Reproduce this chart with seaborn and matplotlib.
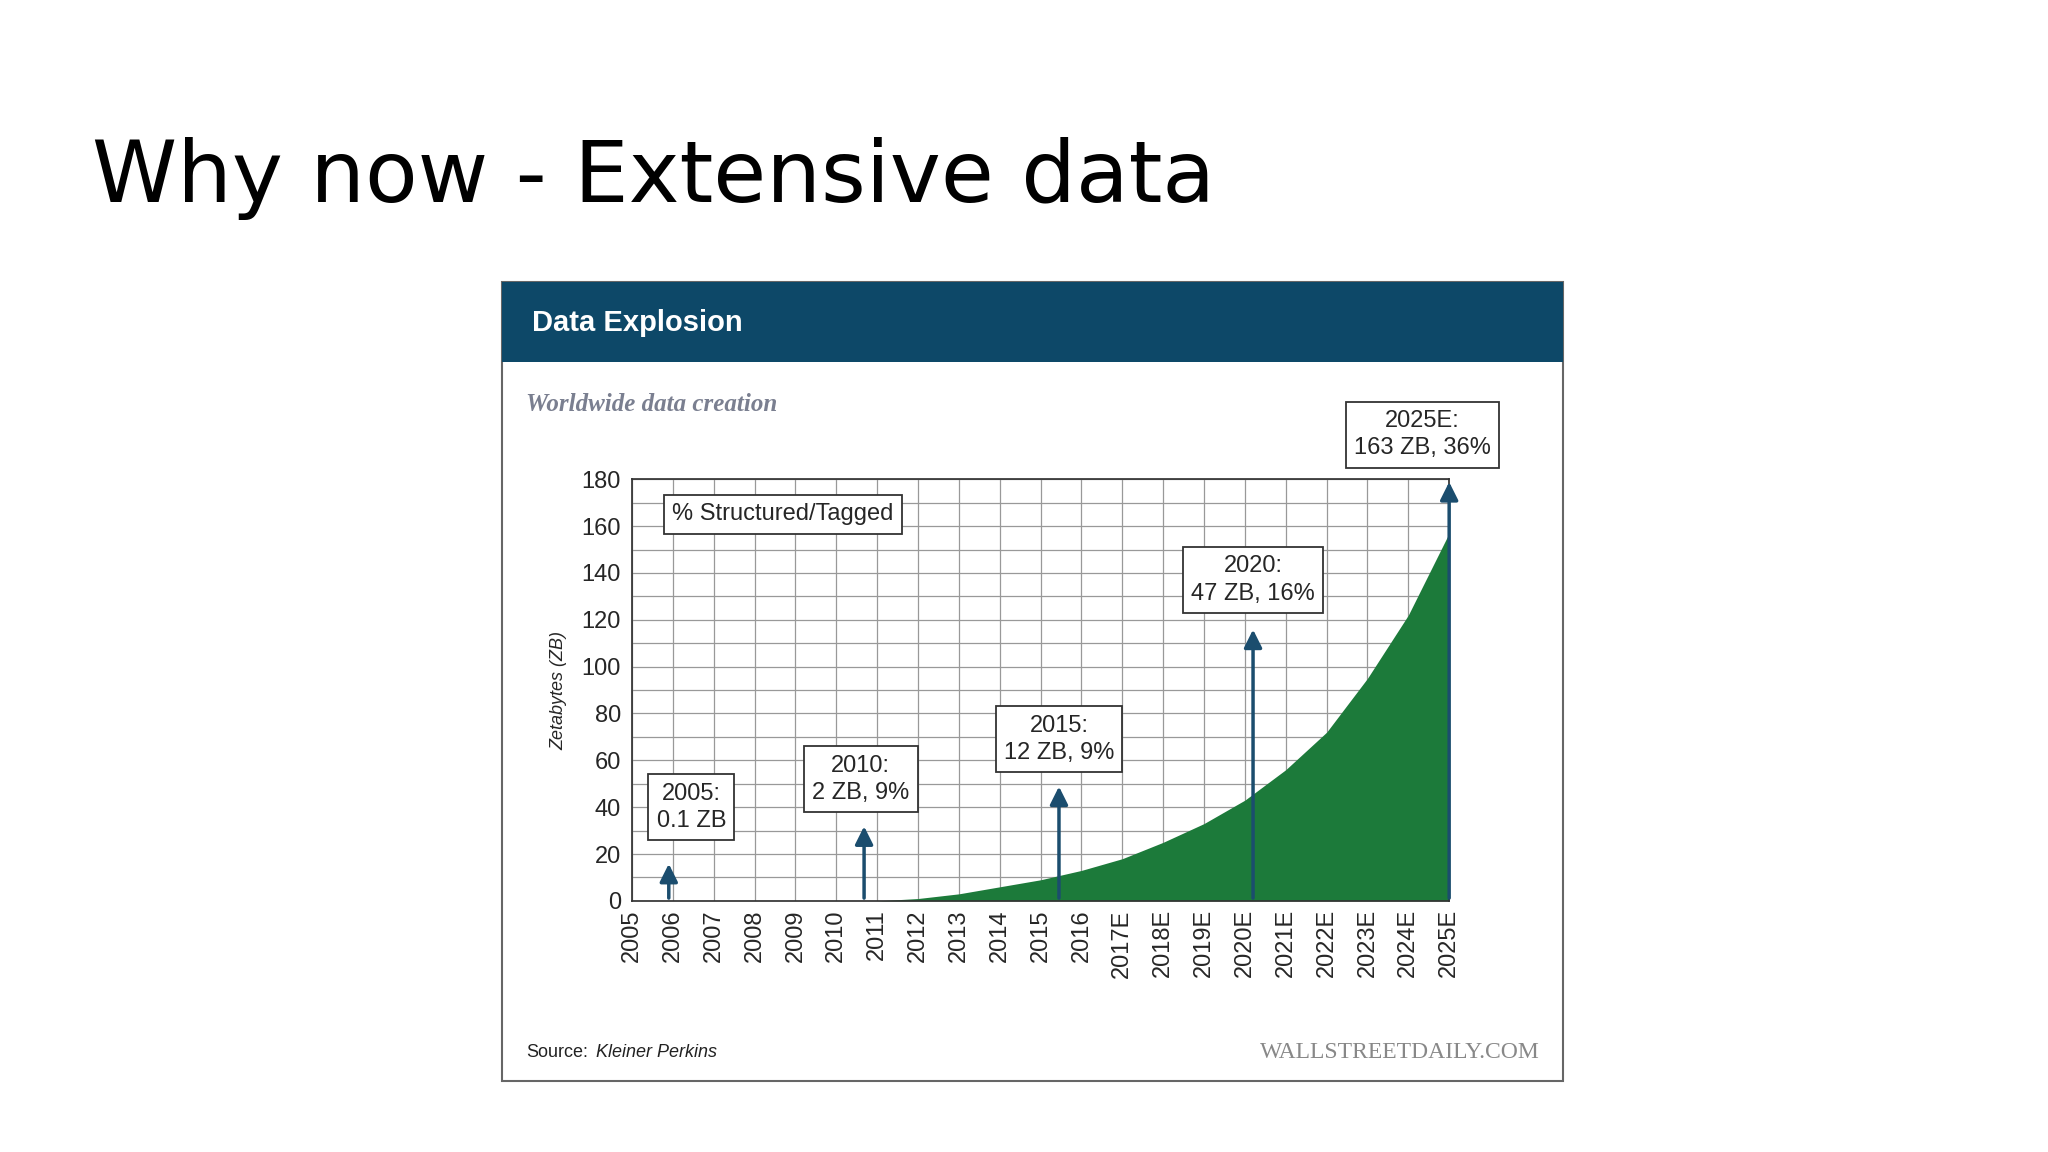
import matplotlib
matplotlib.use("Agg")
import matplotlib.pyplot as plt
import matplotlib.patches as mpatches
import seaborn as sns

years = ["2005", "2006", "2007", "2008", "2009", "2010", "2011", "2012", "2013", "2014",
         "2015", "2016", "2017E", "2018E", "2019E", "2020E", "2021E", "2022E", "2023E",
         "2024E", "2025E"]
# estimated area curve (ZB), from 2011 onwards
area_years = list(range(6, 21))
area_zb = [0, 1, 3, 6, 9, 13, 18, 25, 33, 43, 56, 72, 95, 122, 157]
# callouts: label, box x, box y, arrow x, arrow top
callouts = [
    ("2005:\n0.1 ZB", 1.45, 40, 0.9, 17),
    ("2010:\n2 ZB, 9%", 5.6, 52, 5.68, 33),
    ("2015:\n12 ZB, 9%", 10.45, 69, 10.45, 50),
    ("2020:\n47 ZB, 16%", 15.2, 137, 15.2, 117),
    ("2025E:\n163 ZB, 36%", 19.35, 199, 20.0, 180),
]

sns.set_theme(style="white")
plt.rcParams["font.family"] = ["Liberation Sans", "DejaVu Sans"]
NAVY, GREEN, ARROW = "#0D4868", "#1C7A3A", "#1B4D6E"

fig = plt.figure(figsize=(20.48, 11.52), dpi=100)
fig.text(0.045, 0.845, "Why now - Extensive data", fontsize=62, family=["DejaVu Sans"],
         color="black", va="center")

# card + header band
fig.patches.append(mpatches.Rectangle((0.245, 0.062), 0.518, 0.693, transform=fig.transFigure,
                                      facecolor="white", edgecolor="#666666", lw=1.5))
fig.patches.append(mpatches.Rectangle((0.245, 0.686), 0.518, 0.069, transform=fig.transFigure,
                                      facecolor=NAVY, edgecolor="none"))
fig.text(0.260, 0.720, "Data Explosion", fontsize=21, fontweight="bold", color="white", va="center")
fig.text(0.257, 0.649, "Worldwide data creation", fontsize=18, fontweight="bold", style="italic",
         family=["Liberation Serif"], color="#7A7F90", va="center")
fig.text(0.257, 0.086, "Source:", fontsize=13, color="#222222", va="center")
fig.text(0.291, 0.086, "Kleiner Perkins", fontsize=13, style="italic", color="#222222", va="center")
fig.text(0.752, 0.086, "WALLSTREETDAILY.COM", fontsize=17, family=["Liberation Serif"],
         color="#888888", va="center", ha="right")

ax = fig.add_axes([0.3086, 0.218, 0.399, 0.366])
ax.set_zorder(3)
ax.patch.set_alpha(0)
ax.fill_between(area_years, area_zb, 0, color=GREEN, lw=0, zorder=2)
ax.set_xlim(0, 20)
ax.set_ylim(0, 180)
ax.set_xticks(range(len(years)))
ax.set_xticklabels(years, rotation=90, fontsize=17)
ax.set_yticks(range(0, 181, 20))
ax.set_yticks(range(0, 181, 10), minor=True)
ax.tick_params(axis="y", labelsize=17, length=0, pad=8)
ax.tick_params(axis="x", length=0, pad=6)
ax.tick_params(which="minor", length=0)
ax.grid(True, which="both", color="#999999", lw=0.9, zorder=1)
ax.set_axisbelow(True)
for s in ax.spines.values():
    s.set_color("#333333")
ax.set_ylabel("Zetabytes (ZB)", fontsize=13, style="italic", labelpad=10)

box = dict(boxstyle="square,pad=0.35", facecolor="white", edgecolor="#333333", lw=1.3)
ax.text(3.7, 165, "% Structured/Tagged", fontsize=17, ha="center", va="center", bbox=box, zorder=5)
for label, bx, by, axx, top in callouts:
    ax.text(bx, by, label, fontsize=17, ha="center", va="center", bbox=box,
            linespacing=1.3, zorder=5, clip_on=False)
    ax.annotate("", xy=(axx, top), xytext=(axx, 0), zorder=4, annotation_clip=False,
                arrowprops=dict(arrowstyle="-|>,head_width=0.45,head_length=0.9",
                                color=ARROW, lw=2.5))

fig.savefig("out.png", dpi=100)
